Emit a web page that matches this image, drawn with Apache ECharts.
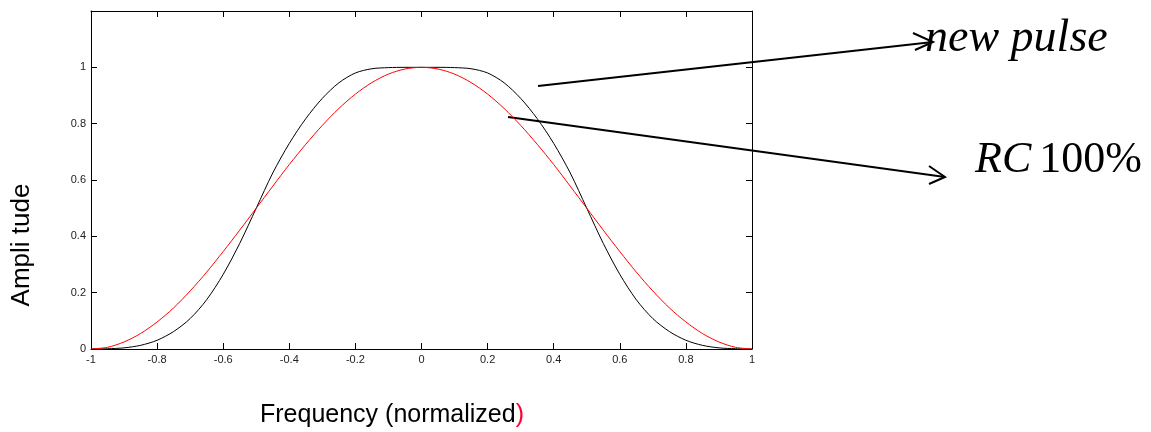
<!DOCTYPE html>
<html>
<head>
<meta charset="utf-8">
<script src="https://cdn.jsdelivr.net/npm/echarts@6/dist/echarts.min.js"></script>
<style>
  html, body { margin: 0; padding: 0; background: #fff; }
  #chart { width: 1151px; height: 432px; }
</style>
</head>
<body>
<div id="chart"></div>
<script>
// frequency samples (normalized), -1 .. 1
var freq = [-1, -0.95, -0.9, -0.85, -0.8, -0.75, -0.7, -0.65, -0.6, -0.55, -0.5,
  -0.45, -0.4, -0.35, -0.3, -0.25, -0.2, -0.15, -0.1, -0.05, 0,
  0.05, 0.1, 0.15, 0.2, 0.25, 0.3, 0.35, 0.4, 0.45, 0.5,
  0.55, 0.6, 0.65, 0.7, 0.75, 0.8, 0.85, 0.9, 0.95, 1];

// black curve ("new pulse")
var newPulse = [0, 0.001, 0.004, 0.013, 0.031, 0.062, 0.108, 0.175, 0.265, 0.375, 0.5,
  0.625, 0.73, 0.818, 0.89, 0.945, 0.98, 0.995, 0.999, 1, 1,
  1, 0.999, 0.995, 0.98, 0.945, 0.89, 0.818, 0.73, 0.625, 0.5,
  0.375, 0.265, 0.175, 0.108, 0.062, 0.031, 0.013, 0.004, 0.001, 0];

// red curve (raised cosine, 100% roll-off)
var rc100 = [0, 0.006, 0.025, 0.055, 0.096, 0.146, 0.206, 0.273, 0.346, 0.422, 0.5,
  0.578, 0.655, 0.727, 0.794, 0.854, 0.905, 0.946, 0.976, 0.994, 1,
  0.994, 0.976, 0.946, 0.905, 0.854, 0.794, 0.727, 0.655, 0.578, 0.5,
  0.422, 0.346, 0.273, 0.206, 0.146, 0.096, 0.055, 0.025, 0.006, 0];

var xLabel = 'Frequency (normalized';
var yLabel = 'Ampli tude';

function pairs(ys) {
  return freq.map(function (x, i) { return [x, ys[i]]; });
}

var chart = echarts.init(document.getElementById('chart'));

var tickFont = { fontFamily: 'Liberation Sans', fontSize: 11, color: '#222' };
var axisLine = { show: true, onZero: false, lineStyle: { color: '#000', width: 1 } };
var tick = { show: true, inside: true, length: 6, lineStyle: { color: '#000', width: 1 } };

chart.setOption({
  animation: false,
  backgroundColor: '#fff',
  grid: { left: 91, right: 399, top: 11, bottom: 83 },
  xAxis: [{
    type: 'value', min: -1, max: 1, interval: 0.2,
    axisLine: axisLine, axisTick: tick, splitLine: { show: false },
    axisLabel: Object.assign({ margin: 5 }, tickFont)
  }, {
    type: 'value', position: 'top', min: -1, max: 1, interval: 0.2,
    axisLine: axisLine, axisTick: tick, splitLine: { show: false },
    axisLabel: { show: false }
  }],
  yAxis: [{
    type: 'value', min: 0, max: 1.2, interval: 0.2,
    axisLine: axisLine, axisTick: tick, splitLine: { show: false },
    axisLabel: Object.assign({
      margin: 5,
      formatter: function (v) { return v > 1.01 ? '' : String(+v.toFixed(1)); }
    }, tickFont)
  }, {
    type: 'value', position: 'right', min: 0, max: 1.2, interval: 0.2,
    axisLine: axisLine, axisTick: tick, splitLine: { show: false },
    axisLabel: { show: false }
  }],
  series: [{
    name: 'new pulse', type: 'line', data: pairs(newPulse),
    showSymbol: false, smooth: 0.3,
    lineStyle: { color: '#000', width: 1 }
  }, {
    name: 'RC 100%', type: 'line', data: pairs(rc100),
    showSymbol: false, smooth: 0.3,
    lineStyle: { color: '#ff0000', width: 1 }
  }],
  graphic: [
    // axis titles
    {
      type: 'text', x: 22, y: 245, rotation: Math.PI / 2,
      style: { text: yLabel, font: '26px "Liberation Sans"', fill: '#000',
        align: 'center', verticalAlign: 'middle' }
    },
    {
      type: 'text', x: 392, y: 415,
      style: {
        text: '{a|' + xLabel + '}{b|)}',
        align: 'center', verticalAlign: 'middle',
        rich: {
          a: { font: '25px "Liberation Sans"', fill: '#000' },
          b: { font: '25px "Liberation Sans"', fill: '#ff0033' }
        }
      }
    },
    // annotation arrows
    { type: 'line', shape: { x1: 538, y1: 86, x2: 933, y2: 42 },
      style: { stroke: '#000', lineWidth: 2 } },
    { type: 'polyline', shape: { points: [[913, 33], [933, 42], [915, 50]] },
      style: { stroke: '#000', lineWidth: 2, fill: null } },
    { type: 'line', shape: { x1: 508, y1: 117, x2: 945, y2: 177 },
      style: { stroke: '#000', lineWidth: 2 } },
    { type: 'polyline', shape: { points: [[929, 166], [945, 177], [929, 184]] },
      style: { stroke: '#000', lineWidth: 2, fill: null } },
    // annotation texts
    {
      type: 'text', x: 925, y: 16,
      style: { text: 'new pulse', font: 'italic 46px "Liberation Serif"', fill: '#000',
        align: 'left', verticalAlign: 'top' }
    },
    {
      type: 'text', x: 975, y: 138,
      style: {
        text: '{i|RC}{n|100%}', align: 'left', verticalAlign: 'top',
        rich: {
          i: { font: 'italic 44px "Liberation Serif"', fill: '#000', padding: [0, 8, 0, 0] },
          n: { font: '44px "Liberation Serif"', fill: '#000' }
        }
      }
    }
  ]
});
</script>
</body>
</html>
